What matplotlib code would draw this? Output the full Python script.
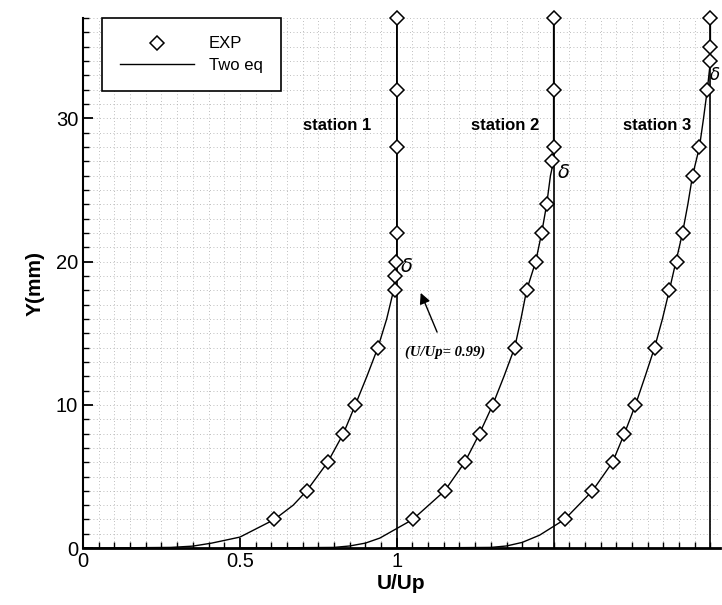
import matplotlib
matplotlib.use("Agg")
import matplotlib.pyplot as plt
from matplotlib.ticker import MultipleLocator, FixedLocator

plt.rcParams['font.family'] = ['Liberation Sans', 'DejaVu Sans']

# station offsets along U/Up (each profile shifted by 0.5)
station_names = ['station 1', 'station 2', 'station 3']
station_offsets = [0.0, 0.5, 1.0]

# EXP points (Y in mm, U/Up)
st1_exp_y = [2, 4, 6, 8, 10, 14, 18, 19, 20, 22, 28, 32, 37]
st1_exp_u = [0.61, 0.713, 0.78, 0.828, 0.866, 0.94, 0.993, 0.995, 0.997, 1.0, 1.0, 1.0, 1.0]
st2_exp_y = [2, 4, 6, 8, 10, 14, 18, 20, 22, 24, 27, 28, 32, 37]
st2_exp_u = [0.551, 0.653, 0.717, 0.764, 0.806, 0.876, 0.914, 0.943, 0.962, 0.978, 0.995, 1.0, 1.0, 1.0]
st3_exp_y = [2, 4, 6, 8, 10, 14, 18, 20, 22, 26, 28, 32, 34, 35, 37]
st3_exp_u = [0.535, 0.624, 0.688, 0.726, 0.761, 0.822, 0.869, 0.892, 0.911, 0.943, 0.965, 0.99, 1.0, 1.0, 1.0]

# Two-eq model profiles
st1_mod_y = [0, 0.05, 0.14, 0.35, 0.77, 2, 3, 4, 6, 8, 10, 12, 14, 16, 18, 20, 22, 37]
st1_mod_u = [0, 0.28, 0.35, 0.41, 0.50, 0.61, 0.67, 0.713, 0.78, 0.83, 0.868, 0.905, 0.94, 0.968, 0.99, 1.0, 1.0, 1.0]
st2_mod_y = [0, 0.05, 0.15, 0.35, 0.7, 2, 4, 6, 8, 10, 12, 14, 16, 18, 20, 22, 24, 26, 27, 37]
st2_mod_u = [0, 0.30, 0.35, 0.40, 0.446, 0.551, 0.653, 0.717, 0.764, 0.806, 0.842, 0.876, 0.896, 0.914, 0.943, 0.962, 0.978, 0.99, 1.0, 1.0]
st3_mod_y = [0, 0.05, 0.15, 0.4, 0.9, 2, 4, 6, 8, 10, 12, 14, 16, 18, 20, 22, 24, 26, 28, 30, 32, 34, 37]
st3_mod_u = [0, 0.30, 0.35, 0.40, 0.455, 0.535, 0.624, 0.688, 0.726, 0.761, 0.792, 0.822, 0.847, 0.869, 0.89, 0.911, 0.928, 0.943, 0.965, 0.978, 0.99, 1.0, 1.0]

exp_y = [st1_exp_y, st2_exp_y, st3_exp_y]
exp_u = [st1_exp_u, st2_exp_u, st3_exp_u]
mod_y = [st1_mod_y, st2_mod_y, st3_mod_y]
mod_u = [st1_mod_u, st2_mod_u, st3_mod_u]

# boundary layer edge marks (delta) per station
delta_y = [19.6, 26.2, 33.0]
delta_dx = [0.012, 0.012, -0.004]

fig = plt.figure(figsize=(7.22, 6.05), dpi=100)
ax = fig.add_axes([0.115, 0.094, 0.882, 0.876])

for i in range(3):
    off = station_offsets[i]
    ax.plot([u + off for u in mod_u[i]], mod_y[i], color='black', lw=1.0,
            label='Two eq' if i == 0 else None, zorder=3)
    ax.plot([u + off for u in exp_u[i]], exp_y[i], linestyle='none', marker='D',
            markersize=7, markerfacecolor='white', markeredgecolor='black',
            markeredgewidth=1.1, clip_on=False, zorder=4,
            label='EXP' if i == 0 else None)
    ax.axvline(1.0 + off, color='black', lw=1.2, zorder=2)
    ax.text(1.0 + off + delta_dx[i], delta_y[i], r'$\delta$',
            fontsize=14 if i < 2 else 12,
            ha='left', va='center', family='DejaVu Serif', clip_on=False, zorder=5)

label_x = [0.81, 1.345, 1.83]
for name, lx in zip(station_names, label_x):
    ax.text(lx, 29.5, name, fontsize=12, fontweight='bold', ha='center', va='center')

ax.annotate('(U/Up= 0.99)', xy=(1.073, 18.0), xytext=(1.155, 13.7),
            fontsize=10.5, fontstyle='italic', fontweight='bold', family='Liberation Serif',
            ha='center', va='center',
            arrowprops=dict(arrowstyle='-|>', color='black', lw=1.0, shrinkA=8,
                            mutation_scale=16))

ax.set_xlim(0, 2.03)
ax.set_ylim(0, 37)
ax.xaxis.set_major_locator(FixedLocator([0, 0.5, 1.0]))
ax.set_xticklabels(['0', '0.5', '1'])
ax.xaxis.set_minor_locator(MultipleLocator(0.05))
ax.yaxis.set_major_locator(MultipleLocator(10))
ax.yaxis.set_minor_locator(MultipleLocator(1))
ax.tick_params(which='both', direction='in', labelsize=14.5)
ax.tick_params(which='major', length=7, width=1.3)
ax.tick_params(which='minor', length=4, width=1.0)
ax.tick_params(axis='x', pad=3)

for s in ['top', 'right']:
    ax.spines[s].set_visible(False)
ax.spines['left'].set_linewidth(1.5)
ax.spines['bottom'].set_linewidth(2.0)

ax.grid(which='minor', color='#a8a8a8', linestyle=(0, (1, 3)), linewidth=0.6)
ax.grid(which='major', color='#a8a8a8', linestyle=(0, (1, 3)), linewidth=0.6)
ax.set_axisbelow(True)

ax.set_xlabel('U/Up', fontsize=15, fontweight='bold', labelpad=2)
ax.set_ylabel('Y(mm)', fontsize=15, fontweight='bold', labelpad=8)

handles, labels = ax.get_legend_handles_labels()
order = [labels.index('EXP'), labels.index('Two eq')]
leg = ax.legend([handles[j] for j in order], [labels[j] for j in order],
                loc='upper left', bbox_to_anchor=(0.03, 1.0), fontsize=12,
                frameon=True, fancybox=False, edgecolor='black', framealpha=1,
                handlelength=4.4, borderpad=1.1, labelspacing=0.4, handletextpad=0.9,
                borderaxespad=0)
leg.get_frame().set_linewidth(1.2)

fig.savefig('out.png', dpi=100)
